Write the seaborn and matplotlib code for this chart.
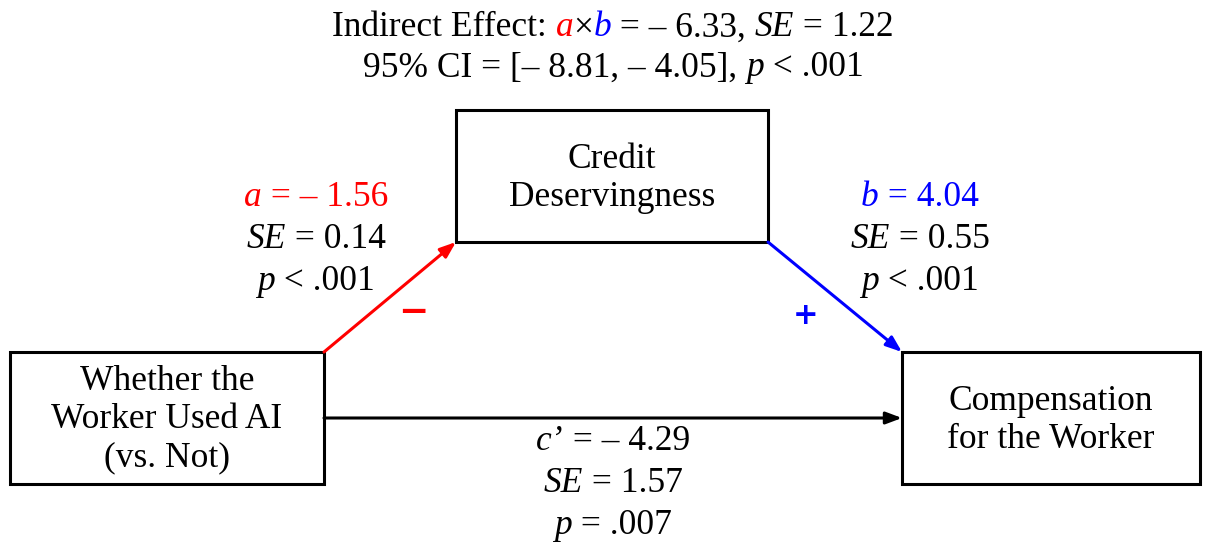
import matplotlib
matplotlib.use('Agg')
import matplotlib.pyplot as plt
import seaborn as sns
from matplotlib.patches import Rectangle

sns.set_theme(style='white')
plt.rcParams['font.family'] = ['Liberation Serif', 'DejaVu Serif']
plt.rcParams['text.color'] = 'black'

# node labels and boxes (left, top, right, bottom in pixels)
node_labels = ['Whether the\nWorker Used AI\n(vs. Not)', 'Credit\nDeservingness',
               'Compensation\nfor the Worker']
node_boxes = [(10, 352, 324, 484), (456, 110, 768, 242), (902, 352, 1200, 484)]

# path statistics
a_stats = ['– 1.56', '0.14', '< .001']
b_stats = ['4.04', '0.55', '< .001']
c_stats = ['– 4.29', '1.57', '= .007']
indirect = ['– 6.33', '1.22', '[– 8.81, – 4.05]', '< .001']

RED = '#ff0000'
BLUE = '#0000ff'
FS = 25.5

fig = plt.figure(figsize=(12.06, 5.46), dpi=100)
ax = fig.add_axes([0, 0, 1, 1])
ax.set_xlim(0, 1206)
ax.set_ylim(546, 0)
ax.axis('off')
fig.canvas.draw()
renderer = fig.canvas.get_renderer()


def seg_text(x, y, parts, size=FS):
    # parts: list of (text, color, italic), centred as one line at x
    items = []
    total = 0
    for txt, col, it in parts:
        t = ax.text(0, y, txt, color=col, fontsize=size, ha='left', va='center',
                    style='italic' if it else 'normal')
        w = t.get_window_extent(renderer).width
        items.append((t, w))
        total += w
    cur = x - total / 2
    for t, w in items:
        t.set_x(cur)
        cur += w


for (l, t, r, b), lab in zip(node_boxes, node_labels):
    ax.add_patch(Rectangle((l, t), r - l, b - t, fill=False, ec='black', lw=2.2))
    ax.text((l + r) / 2, (t + b) / 2 + 2, lab, ha='center', va='center', fontsize=FS,
            linespacing=1.2, color='black')

arrow = dict(arrowstyle='-|>,head_length=0.8,head_width=0.3', lw=2.2, shrinkA=0, shrinkB=0)
X, M, Y = node_boxes
ax.annotate('', xy=(M[0], M[3]), xytext=(X[2], X[1]), arrowprops=dict(arrow, color=RED))
ax.annotate('', xy=(Y[0], Y[1]), xytext=(M[2], M[3]), arrowprops=dict(arrow, color=BLUE))
ax.annotate('', xy=(Y[0], 418), xytext=(X[2], 418), arrowprops=dict(arrow, color='black'))

ax.text(413, 312, '−', color=RED, fontsize=26, fontweight='bold', ha='center', va='center',
        family='DejaVu Sans')
ax.text(806, 316, '+', color=BLUE, fontsize=22, fontweight='bold', ha='center', va='center',
        family='DejaVu Sans')

# title
seg_text(613, 28, [('Indirect Effect: ', 'black', False), ('a', RED, True), ('×', 'black', False),
                   ('b', BLUE, True), (' = ' + indirect[0] + ', ', 'black', False),
                   ('SE', 'black', True), (' = ' + indirect[1], 'black', False)])
seg_text(613, 68, [('95% CI = ' + indirect[2] + ', ', 'black', False), ('p', 'black', True),
                   (' ' + indirect[3], 'black', False)])

# a path
seg_text(316, 197, [('a', RED, True), (' = ' + a_stats[0], RED, False)])
seg_text(316, 240, [('SE', 'black', True), (' = ' + a_stats[1], 'black', False)])
seg_text(316, 282, [('p', 'black', True), (' ' + a_stats[2], 'black', False)])

# b path
seg_text(920, 197, [('b', BLUE, True), (' = ' + b_stats[0], BLUE, False)])
seg_text(920, 240, [('SE', 'black', True), (' = ' + b_stats[1], 'black', False)])
seg_text(920, 282, [('p', 'black', True), (' ' + b_stats[2], 'black', False)])

# c' path
seg_text(613, 441, [('c’', 'black', True), (' = ' + c_stats[0], 'black', False)])
seg_text(613, 484, [('SE', 'black', True), (' = ' + c_stats[1], 'black', False)])
seg_text(613, 526, [('p', 'black', True), (' ' + c_stats[2], 'black', False)])

fig.savefig('out.png', dpi=100, facecolor='white')
